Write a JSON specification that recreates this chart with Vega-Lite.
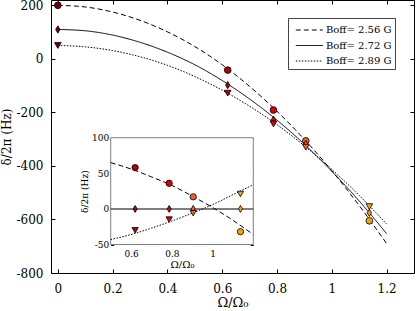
{
  "$schema": "https://vega.github.io/schema/vega-lite/v6.json",
  "width": 363,
  "height": 273,
  "autosize": {"type": "none"},
  "padding": {"left": 51, "top": 0, "right": 2, "bottom": 38},
  "background": "white",
  "config": {
    "font": "DejaVu Serif",
    "view": {"stroke": "black", "strokeWidth": 1},
    "axis": {"grid": false, "domain": false, "tickColor": "black", "labelColor": "black", "titleColor": "black", "titleFontWeight": "normal", "labelFont": "DejaVu Serif", "titleFont": "DejaVu Serif"}
  },
  "datasets": {
    "curves": [
      {"Omega": 0, "delta": 200, "series": "Boff= 2.56 G"},
      {"Omega": 0.1, "delta": 194, "series": "Boff= 2.56 G"},
      {"Omega": 0.2, "delta": 175, "series": "Boff= 2.56 G"},
      {"Omega": 0.3, "delta": 144, "series": "Boff= 2.56 G"},
      {"Omega": 0.4, "delta": 101, "series": "Boff= 2.56 G"},
      {"Omega": 0.5, "delta": 46, "series": "Boff= 2.56 G"},
      {"Omega": 0.6, "delta": -22, "series": "Boff= 2.56 G"},
      {"Omega": 0.7, "delta": -103, "series": "Boff= 2.56 G"},
      {"Omega": 0.8, "delta": -196, "series": "Boff= 2.56 G"},
      {"Omega": 0.9, "delta": -301, "series": "Boff= 2.56 G"},
      {"Omega": 1.0, "delta": -418, "series": "Boff= 2.56 G"},
      {"Omega": 1.1, "delta": -548, "series": "Boff= 2.56 G"},
      {"Omega": 1.2, "delta": -690, "series": "Boff= 2.56 G"},
      {"Omega": 0, "delta": 110, "series": "Boff= 2.72 G"},
      {"Omega": 0.1, "delta": 105, "series": "Boff= 2.72 G"},
      {"Omega": 0.2, "delta": 89, "series": "Boff= 2.72 G"},
      {"Omega": 0.3, "delta": 62, "series": "Boff= 2.72 G"},
      {"Omega": 0.4, "delta": 25, "series": "Boff= 2.72 G"},
      {"Omega": 0.5, "delta": -22, "series": "Boff= 2.72 G"},
      {"Omega": 0.6, "delta": -81, "series": "Boff= 2.72 G"},
      {"Omega": 0.7, "delta": -150, "series": "Boff= 2.72 G"},
      {"Omega": 0.8, "delta": -229, "series": "Boff= 2.72 G"},
      {"Omega": 0.9, "delta": -319, "series": "Boff= 2.72 G"},
      {"Omega": 1.0, "delta": -420, "series": "Boff= 2.72 G"},
      {"Omega": 1.1, "delta": -531, "series": "Boff= 2.72 G"},
      {"Omega": 1.2, "delta": -653, "series": "Boff= 2.72 G"},
      {"Omega": 0, "delta": 50, "series": "Boff= 2.89 G"},
      {"Omega": 0.1, "delta": 45, "series": "Boff= 2.89 G"},
      {"Omega": 0.2, "delta": 31, "series": "Boff= 2.89 G"},
      {"Omega": 0.3, "delta": 8, "series": "Boff= 2.89 G"},
      {"Omega": 0.4, "delta": -24, "series": "Boff= 2.89 G"},
      {"Omega": 0.5, "delta": -66, "series": "Boff= 2.89 G"},
      {"Omega": 0.6, "delta": -117, "series": "Boff= 2.89 G"},
      {"Omega": 0.7, "delta": -177, "series": "Boff= 2.89 G"},
      {"Omega": 0.8, "delta": -246, "series": "Boff= 2.89 G"},
      {"Omega": 0.9, "delta": -325, "series": "Boff= 2.89 G"},
      {"Omega": 1.0, "delta": -413, "series": "Boff= 2.89 G"},
      {"Omega": 1.1, "delta": -510, "series": "Boff= 2.89 G"},
      {"Omega": 1.2, "delta": -617, "series": "Boff= 2.89 G"}
    ],
    "points": [
      {"Omega": 0, "delta": 200, "curve": "B2.56"},
      {"Omega": 0, "delta": 110, "curve": "B2.72"},
      {"Omega": 0, "delta": 50, "curve": "B2.89"},
      {"Omega": 0.62, "delta": -42, "curve": "B2.56"},
      {"Omega": 0.62, "delta": -98, "curve": "B2.72"},
      {"Omega": 0.62, "delta": -128, "curve": "B2.89"},
      {"Omega": 0.787, "delta": -191, "curve": "B2.56"},
      {"Omega": 0.787, "delta": -228, "curve": "B2.72"},
      {"Omega": 0.787, "delta": -243, "curve": "B2.89"},
      {"Omega": 0.905, "delta": -306, "curve": "B2.56"},
      {"Omega": 0.905, "delta": -318, "curve": "B2.72"},
      {"Omega": 0.905, "delta": -330, "curve": "B2.89"},
      {"Omega": 1.137, "delta": -605, "curve": "B2.56"},
      {"Omega": 1.137, "delta": -575, "curve": "B2.72"},
      {"Omega": 1.137, "delta": -552, "curve": "B2.89"}
    ],
    "icurves": [
      {"Omega": 0.5, "d": 65, "series": "Boff= 2.56 G"},
      {"Omega": 0.6, "d": 56, "series": "Boff= 2.56 G"},
      {"Omega": 0.7, "d": 45, "series": "Boff= 2.56 G"},
      {"Omega": 0.8, "d": 33, "series": "Boff= 2.56 G"},
      {"Omega": 0.9, "d": 18, "series": "Boff= 2.56 G"},
      {"Omega": 1.0, "d": 2, "series": "Boff= 2.56 G"},
      {"Omega": 1.1, "d": -16, "series": "Boff= 2.56 G"},
      {"Omega": 1.2, "d": -36, "series": "Boff= 2.56 G"},
      {"Omega": 0.5, "d": 0, "series": "Boff= 2.72 G"},
      {"Omega": 1.2, "d": 0, "series": "Boff= 2.72 G"},
      {"Omega": 0.5, "d": -43, "series": "Boff= 2.89 G"},
      {"Omega": 0.6, "d": -36, "series": "Boff= 2.89 G"},
      {"Omega": 0.7, "d": -27, "series": "Boff= 2.89 G"},
      {"Omega": 0.8, "d": -17, "series": "Boff= 2.89 G"},
      {"Omega": 0.9, "d": -6, "series": "Boff= 2.89 G"},
      {"Omega": 1.0, "d": 6, "series": "Boff= 2.89 G"},
      {"Omega": 1.1, "d": 20, "series": "Boff= 2.89 G"},
      {"Omega": 1.2, "d": 34, "series": "Boff= 2.89 G"}
    ],
    "ipoints": [
      {"Omega": 0.62, "d": 58, "curve": "B2.56"},
      {"Omega": 0.62, "d": 0, "curve": "B2.72"},
      {"Omega": 0.62, "d": -30, "curve": "B2.89"},
      {"Omega": 0.787, "d": 36, "curve": "B2.56"},
      {"Omega": 0.787, "d": 0, "curve": "B2.72"},
      {"Omega": 0.787, "d": -15, "curve": "B2.89"},
      {"Omega": 0.905, "d": 17, "curve": "B2.56"},
      {"Omega": 0.905, "d": 0, "curve": "B2.72"},
      {"Omega": 0.905, "d": -6, "curve": "B2.89"},
      {"Omega": 1.137, "d": -32, "curve": "B2.56"},
      {"Omega": 1.137, "d": 0, "curve": "B2.72"},
      {"Omega": 1.137, "d": 21, "curve": "B2.89"}
    ],
    "inset": [
      {"lo": 0.5, "hi": 1.2, "bottom": -50, "top": 100}
    ]
  },
  "layer": [
    {
      "data": {"name": "curves"},
      "mark": {"type": "line", "color": "black", "strokeWidth": 1, "interpolate": "monotone"},
      "encoding": {
        "x": {"field": "Omega", "type": "quantitative",
          "scale": {"domain": [-0.025, 1.3], "nice": false, "zero": false},
          "axis": {"orient": "bottom", "values": [0, 0.2, 0.4, 0.6, 0.8, 1, 1.2], "labelExpr": "toString(datum.value)", "tickSize": -4, "labelPadding": 14, "labelFontSize": 12, "title": "Ω/Ω₀", "titleFontSize": 13, "titlePadding": 2}},
        "y": {"field": "delta", "type": "quantitative",
          "scale": {"domain": [-800, 220], "nice": false, "zero": false},
          "axis": {"orient": "left", "values": [-800, -600, -400, -200, 0, 200], "labelExpr": "toString(datum.value)", "tickSize": -4, "labelPadding": 12, "labelFontSize": 12, "title": "δ/2π (Hz)", "titleFontSize": 12, "titlePadding": 3}},
        "strokeDash": {"field": "series", "type": "nominal",
          "scale": {"domain": ["Boff= 2.56 G", "Boff= 2.72 G", "Boff= 2.89 G"], "range": [[5, 3], [1, 0], [1.5, 1.5]]},
          "legend": {"orient": "none", "legendX": 237, "legendY": 18, "title": null, "symbolType": "M-0.51,0H2.78", "symbolSize": 270, "symbolStrokeWidth": 1, "symbolStrokeColor": "black", "symbolFillColor": "transparent", "labelFontSize": 10, "labelFont": "DejaVu Serif", "labelColor": "black", "strokeColor": "#444", "fillColor": "white", "padding": 3, "rowPadding": 1.5, "labelOffset": 17}}
      }
    },
    {
      "data": {"name": "points"},
      "mark": {"type": "point", "filled": true, "stroke": "black", "strokeWidth": 0.8, "size": 45, "opacity": 1},
      "encoding": {
        "x": {"field": "Omega", "type": "quantitative",
          "scale": {"domain": [-0.025, 1.3], "nice": false, "zero": false},
          "axis": {"orient": "top", "values": [0, 0.2, 0.4, 0.6, 0.8, 1, 1.2], "labels": false, "tickSize": -4, "title": null}},
        "y": {"field": "delta", "type": "quantitative",
          "scale": {"domain": [-800, 220], "nice": false, "zero": false},
          "axis": {"orient": "right", "values": [-800, -600, -400, -200, 0, 200], "labels": false, "tickSize": -4, "title": null}},
        "shape": {"field": "curve", "type": "nominal",
          "scale": {"domain": ["B2.56", "B2.72", "B2.89"], "range": ["circle", "M0,-1.1L0.65,0L0,1.1L-0.65,0Z", "triangle-down"]}, "legend": null},
        "color": {"field": "Omega", "type": "ordinal",
          "scale": {"domain": [0, 0.62, 0.787, 0.905, 1.137], "range": ["#700000", "#b00000", "#e00000", "#f06020", "#f5a500"]}, "legend": null}
      }
    },
    {
      "layer": [
        {
          "data": {"name": "inset"},
          "mark": {"type": "rect", "fill": "white", "stroke": "#808080", "strokeWidth": 1},
          "encoding": {
            "x": {"field": "lo", "type": "quantitative",
              "scale": {"domain": [0.5, 1.2], "range": [59.7, 202.3], "nice": false, "zero": false},
              "axis": {"orient": "bottom", "offset": -28.5, "values": [0.6, 0.8, 1], "labelExpr": "toString(datum.value)", "tickSize": -3, "labelPadding": 8, "labelFontSize": 9, "title": "Ω/Ω₀", "titleFontSize": 10, "titlePadding": 1}},
            "x2": {"field": "hi"},
            "y": {"field": "bottom", "type": "quantitative",
              "scale": {"domain": [-50, 100], "range": [244.5, 137.7], "nice": false, "zero": false},
              "axis": {"orient": "left", "offset": -59.7, "values": [-50, 0, 50, 100], "labelExpr": "toString(datum.value)", "tickSize": -3, "labelPadding": 5, "labelFontSize": 9, "title": "δ/2π (Hz)", "titleFontSize": 9, "titlePadding": 2}},
            "y2": {"field": "top"}
          }
        },
        {
          "data": {"name": "icurves"},
          "transform": [{"filter": "datum.series === 'Boff= 2.72 G'"}],
          "mark": {"type": "line", "color": "#555555", "strokeWidth": 1.5},
          "encoding": {
            "x": {"field": "Omega", "type": "quantitative"},
            "y": {"field": "d", "type": "quantitative"}
          }
        },
        {
          "data": {"name": "icurves"},
          "transform": [{"filter": "datum.series !== 'Boff= 2.72 G'"}],
          "mark": {"type": "line", "color": "black", "strokeWidth": 1, "interpolate": "monotone"},
          "encoding": {
            "x": {"field": "Omega", "type": "quantitative"},
            "y": {"field": "d", "type": "quantitative"},
            "strokeDash": {"field": "series", "type": "nominal"}
          }
        }
      ]
    },
    {
      "data": {"name": "ipoints"},
      "mark": {"type": "point", "filled": true, "stroke": "black", "strokeWidth": 0.8, "size": 40, "opacity": 1},
      "encoding": {
        "x": {"field": "Omega", "type": "quantitative",
          "scale": {"domain": [0.5, 1.2], "range": [59.7, 202.3], "nice": false, "zero": false},
          "axis": {"orient": "top", "offset": -137.7, "values": [0.6, 0.8, 1], "labels": false, "tickSize": -3, "title": null}},
        "y": {"field": "d", "type": "quantitative",
          "scale": {"domain": [-50, 100], "range": [244.5, 137.7], "nice": false, "zero": false},
          "axis": {"orient": "right", "offset": -160.7, "values": [-50, 0, 50, 100], "labels": false, "tickSize": -3, "title": null}},
        "shape": {"field": "curve", "type": "nominal", "legend": null},
        "color": {"field": "Omega", "type": "ordinal", "legend": null}
      }
    }
  ],
  "resolve": {"scale": {"x": "independent", "y": "independent"}}
}
